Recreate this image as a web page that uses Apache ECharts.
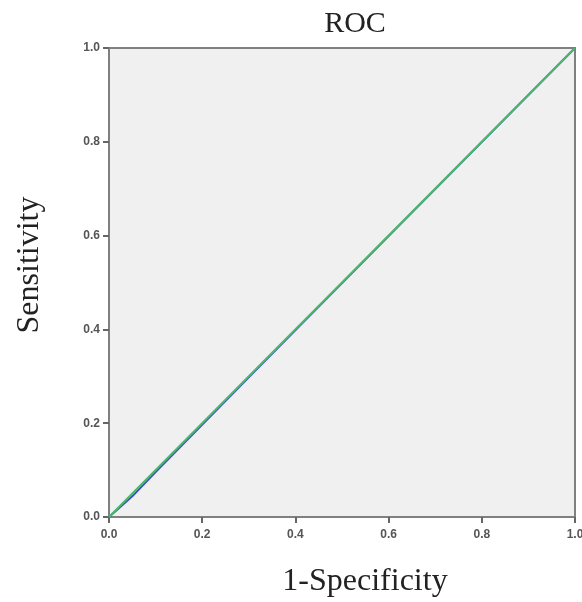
<!DOCTYPE html>
<html>
<head>
<meta charset="utf-8">
<script src="https://cdn.jsdelivr.net/npm/echarts@6/dist/echarts.min.js"></script>
<style>html,body{margin:0;padding:0;background:#fff;}#c{width:582px;height:602px;}</style>
</head>
<body>
<div id="c"></div>
<script>
const titleText = 'ROC';
const xName = '1-Specificity';
const yName = 'Sensitivity';
const tickValues = [0, 0.2, 0.4, 0.6, 0.8, 1.0];
const rocX = [0, 0.05, 0.1, 0.3, 0.6, 1.0];
const rocY = [0, 0.044, 0.096, 0.298, 0.599, 1.0];
const refX = [0, 1];
const refY = [0, 1];

const chart = echarts.init(document.getElementById('c'), null, {renderer: 'canvas'});
const axisCommon = {
  type: 'value', min: 0, max: 1, interval: 0.2,
  axisLine: {show: true, lineStyle: {color: '#808080', width: 2}},
  axisTick: {show: true, inside: false, length: 6, lineStyle: {color: '#666', width: 2}},
  axisLabel: {color: '#555', fontSize: 12, fontWeight: 'bold', fontFamily: 'Liberation Sans, Arial', formatter: v => v.toFixed(1)},
  splitLine: {show: false}
};
chart.setOption({
  animation: false,
  backgroundColor: '#fff',
  title: {text: titleText, left: 350, top: 4, textAlign: 'center',
    textStyle: {fontFamily: 'Liberation Serif, Times New Roman, serif', fontSize: 30, fontWeight: 'normal', color: '#222'}},
  grid: {left: 109, right: 7, top: 48, bottom: 85, show: true, outerBoundsMode: 'none', containLabel: false,
    backgroundColor: '#f0f0f0', borderColor: '#808080', borderWidth: 2},
  xAxis: Object.assign({}, axisCommon, {axisLabel: Object.assign({}, axisCommon.axisLabel, {margin: 12})}),
  yAxis: Object.assign({}, axisCommon, {axisLabel: Object.assign({}, axisCommon.axisLabel, {margin: 9})}),
  graphic: [
    {type: 'text', x: 365, y: 582, style: {text: xName, font: '32px "Liberation Serif", "Times New Roman", serif', fill: '#222', textAlign: 'center', textVerticalAlign: 'middle'}},
    {type: 'text', x: 30, y: 265, rotation: Math.PI / 2, style: {text: yName, font: '32px "Liberation Serif", "Times New Roman", serif', fill: '#222', textAlign: 'center', textVerticalAlign: 'middle'}}
  ],
  series: [
    {type: 'line', data: rocX.map((x, i) => [x, rocY[i]]), symbol: 'none', lineStyle: {color: '#3f4fc4', width: 2}, z: 2},
    {type: 'line', data: refX.map((x, i) => [x, refY[i]]), symbol: 'none', lineStyle: {color: '#4cb86a', width: 2}, z: 3}
  ]
});
</script>
</body>
</html>
